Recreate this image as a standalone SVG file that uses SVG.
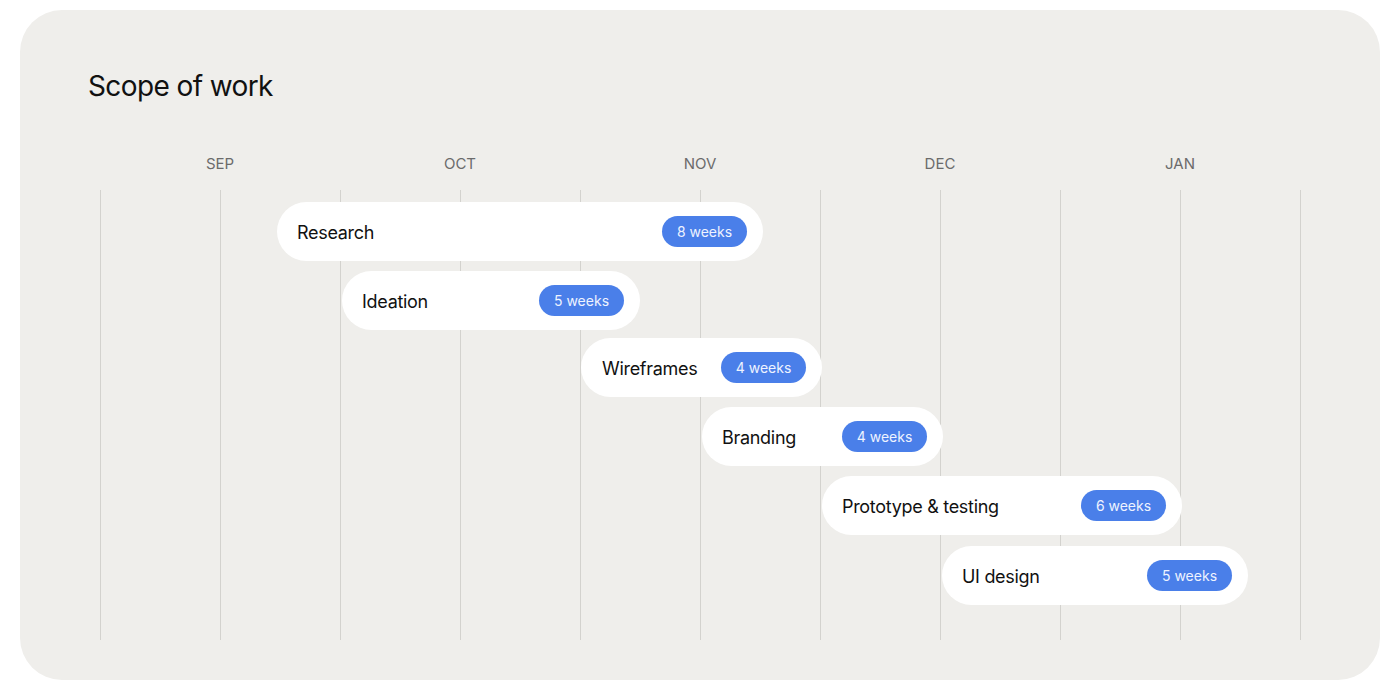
<svg xmlns="http://www.w3.org/2000/svg" width="1400" height="700" viewBox="0 0 1400 700">
<style>
.grid line{stroke:#d3d2ce;stroke-width:1}
.month{font-family:Inter,"Liberation Sans",sans-serif;font-size:15px;fill:#6b6b6b;text-anchor:middle}
.bar{fill:#ffffff}
.label{font-family:Inter,"Liberation Sans",sans-serif;font-size:18px;fill:#111111;letter-spacing:-0.3px}
.badge{fill:#4a7fe9}
.btext{font-family:Inter,"Liberation Sans",sans-serif;font-size:14px;fill:#eef3ff;text-anchor:middle}
</style>
<rect x="0" y="0" width="1400" height="700" fill="#ffffff"/>
<rect x="20" y="10" width="1360" height="670" rx="42" fill="#efeeeb"/>
<text x="88" y="96" font-family="Inter,'Liberation Sans',sans-serif" font-size="28" letter-spacing="-0.6" fill="#111111">Scope of work</text>
<g id="months">
<text class="month" x="220" y="169">SEP</text>
<text class="month" x="460" y="169">OCT</text>
<text class="month" x="700" y="169">NOV</text>
<text class="month" x="940" y="169">DEC</text>
<text class="month" x="1180" y="169">JAN</text>
</g>
<g class="grid" id="grid">
<line x1="100.5" y1="190" x2="100.5" y2="640"/>
<line x1="220.5" y1="190" x2="220.5" y2="640"/>
<line x1="340.5" y1="190" x2="340.5" y2="640"/>
<line x1="460.5" y1="190" x2="460.5" y2="640"/>
<line x1="580.5" y1="190" x2="580.5" y2="640"/>
<line x1="700.5" y1="190" x2="700.5" y2="640"/>
<line x1="820.5" y1="190" x2="820.5" y2="640"/>
<line x1="940.5" y1="190" x2="940.5" y2="640"/>
<line x1="1060.5" y1="190" x2="1060.5" y2="640"/>
<line x1="1180.5" y1="190" x2="1180.5" y2="640"/>
<line x1="1300.5" y1="190" x2="1300.5" y2="640"/>
</g>
<g id="research">
<rect class="bar" x="277" y="202" width="486" height="59" rx="29.5"/>
<text class="label" x="297" y="238.5">Research</text>
<rect class="badge" x="662" y="216" width="85" height="31" rx="15.5"/>
<text class="btext" x="704.5" y="236.5">8 weeks</text>
</g>
<g id="ideation">
<rect class="bar" x="342" y="271" width="298" height="59" rx="29.5"/>
<text class="label" x="362" y="307.5">Ideation</text>
<rect class="badge" x="539" y="285" width="85" height="31" rx="15.5"/>
<text class="btext" x="581.5" y="305.5">5 weeks</text>
</g>
<g id="wireframes">
<rect class="bar" x="581" y="338" width="241" height="59" rx="29.5"/>
<text class="label" x="602" y="374.5">Wireframes</text>
<rect class="badge" x="721" y="352" width="85" height="31" rx="15.5"/>
<text class="btext" x="763.5" y="372.5">4 weeks</text>
</g>
<g id="branding">
<rect class="bar" x="702" y="407" width="241" height="59" rx="29.5"/>
<text class="label" x="722" y="443.5">Branding</text>
<rect class="badge" x="842" y="421" width="85" height="31" rx="15.5"/>
<text class="btext" x="884.5" y="441.5">4 weeks</text>
</g>
<g id="prototype">
<rect class="bar" x="822" y="476" width="360" height="59" rx="29.5"/>
<text class="label" x="842" y="512.5">Prototype &amp; testing</text>
<rect class="badge" x="1081" y="490" width="85" height="31" rx="15.5"/>
<text class="btext" x="1123.5" y="510.5">6 weeks</text>
</g>
<g id="uidesign">
<rect class="bar" x="942" y="546" width="306" height="59" rx="29.5"/>
<text class="label" x="962" y="582.5">UI design</text>
<rect class="badge" x="1147" y="560" width="85" height="31" rx="15.5"/>
<text class="btext" x="1189.5" y="580.5">5 weeks</text>
</g>
</svg>
